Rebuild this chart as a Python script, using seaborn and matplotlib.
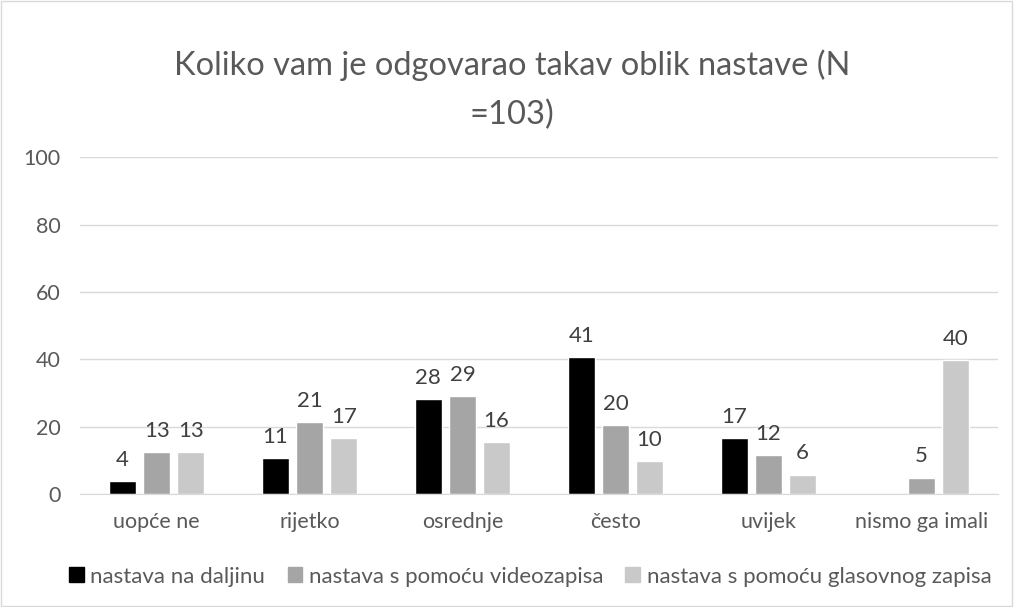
import pandas as pd
import seaborn as sns
import matplotlib.pyplot as plt
from matplotlib.patches import Rectangle

# podaci (postotci, oznake zaokružene); 0 = nema podatka
categories = ["uopće ne", "rijetko", "osrednje", "često", "uvijek", "nismo ga imali"]
series = ["nastava na daljinu", "nastava s pomoću videozapisa", "nastava s pomoću glasovnog zapisa"]
daljinu = [3.9, 10.7, 28.2, 40.8, 16.6, 0]
video = [12.6, 21.4, 29.1, 20.4, 11.7, 4.9]
glas = [12.6, 16.6, 15.5, 9.7, 5.8, 39.8]
colors = ["#000000", "#A5A5A5", "#C9C9C9"]

df = pd.DataFrame({
    "kategorija": categories * 3,
    "serija": [s for s in series for _ in categories],
    "vrijednost": daljinu + video + glas,
})

sns.set_style("white")
plt.rcParams["font.family"] = ["Lato", "DejaVu Sans"]
txt = "#595959"

fig = plt.figure(figsize=(10.14, 6.07), dpi=100)
ax = fig.add_axes([0.079, 0.186, 0.905, 0.555])

sns.barplot(data=df, x="kategorija", y="vrijednost", hue="serija",
            palette=colors, width=0.67, gap=0.2, order=categories,
            hue_order=series, ax=ax, legend=False, saturation=1)

# oznake vrijednosti
for cont, vals in zip(ax.containers, [daljinu, video, glas]):
    labs = ["" if v == 0 else f"{v:.0f}" for v in vals]
    ax.bar_label(cont, labels=labs, padding=8, fontsize=16, color="#404040")

ax.set_ylim(0, 100)
ax.set_yticks(range(0, 101, 20))
ax.yaxis.grid(True, color="#D9D9D9", linewidth=1)
ax.set_axisbelow(True)
for s in ["top", "right", "left"]:
    ax.spines[s].set_visible(False)
ax.spines["bottom"].set_color("#D9D9D9")
ax.tick_params(axis="both", length=0, labelsize=15.5, colors=txt)
ax.tick_params(axis="y", pad=14)
ax.tick_params(axis="x", pad=13)
ax.set_xlabel("")
ax.set_ylabel("")

fig.text(0.505, 0.852, "Koliko vam je odgovarao takav oblik nastave (N\n=103)",
         ha="center", va="center", fontsize=23.5, color=txt, linespacing=1.75)

handles = [Rectangle((0, 0), 1, 1, color=c) for c in colors]
fig.legend(handles, series, loc="center", bbox_to_anchor=(0.523, 0.05), ncol=3,
           frameon=False, fontsize=16, handlelength=0.65, handleheight=0.65,
           handletextpad=0.3, columnspacing=1.0, labelcolor=txt)

fig.patches.append(Rectangle((0.001, 0.002), 0.997, 0.996, transform=fig.transFigure,
                             fill=False, edgecolor="#D9D9D9", linewidth=1))

fig.savefig("out.png", dpi=100)
